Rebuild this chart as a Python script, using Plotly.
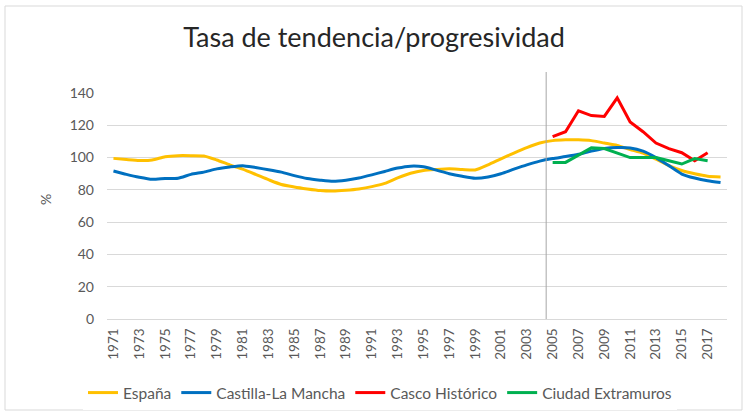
import plotly.graph_objects as go

years = list(range(1971, 2019))
years_local = list(range(2005, 2018))

espana = [99.5, 98.8, 98.2, 98.5, 100.5, 101.2, 101.2, 101.0, 98.5, 95.5,
          92.8, 89.6, 86.3, 83.3, 81.8, 80.6, 79.6, 79.3, 79.8, 80.6,
          82.0, 84.0, 87.4, 90.3, 92.0, 92.6, 93.0, 92.6, 92.3, 95.5,
          99.2, 102.8, 106.2, 109.0, 110.5, 111.0, 111.0, 110.5, 109.0, 107.5,
          105.0, 102.7, 99.0, 95.0, 92.0, 90.0, 88.5, 88.0]
clm = [91.7, 89.6, 87.8, 86.5, 87.0, 87.2, 89.6, 91.0, 93.0, 94.2,
       95.0, 93.8, 92.5, 91.0, 88.8, 87.0, 86.0, 85.3, 86.0, 87.4,
       89.3, 91.4, 93.5, 94.7, 94.3, 92.2, 90.0, 88.4, 87.2, 88.0,
       90.0, 92.8, 95.5, 97.8, 99.4, 100.6, 102.0, 104.0, 105.6, 106.2,
       106.0, 104.0, 100.0, 95.0, 89.8, 87.3, 85.6, 84.5]
casco = [113, 116, 129, 126, 125.5, 137, 122, 116, 109, 105.5, 103, 98, 103]
extramuros = [97, 97, 101.5, 106, 105.6, 102.7, 100, 100, 100, 98, 96, 99.4, 98]

tick_years = list(range(1971, 2018, 2))
tick_labels = [str(y) for y in tick_years]
y_ticks = [0, 20, 40, 60, 80, 100, 120, 140]

FONT = "Lato"
TXT = "#595959"

fig = go.Figure()
fig.add_trace(go.Scatter(x=years, y=espana, name="España", mode="lines",
                         line=dict(color="#FFC000", width=3, shape="spline", smoothing=0.6)))
fig.add_trace(go.Scatter(x=years, y=clm, name="Castilla-La Mancha", mode="lines",
                         line=dict(color="#0070C0", width=3, shape="spline", smoothing=0.6)))
fig.add_trace(go.Scatter(x=years_local, y=casco, name="Casco Histórico", mode="lines",
                         line=dict(color="#FF0000", width=3)))
fig.add_trace(go.Scatter(x=years_local, y=extramuros, name="Ciudad Extramuros", mode="lines",
                         line=dict(color="#00B050", width=3)))

L, R, T, B = 107, 21, 93, 100
W, H = 748, 419
pw, ph = W - L - R, H - T - B

def px_x(x):
    return (x - L) / pw

def px_y(y):
    return (H - B - y) / ph

fig.update_layout(
    width=W, height=H,
    margin=dict(l=L, r=R, t=T, b=B, autoexpand=False),
    paper_bgcolor="white", plot_bgcolor="white",
    font=dict(family=FONT, color=TXT, size=13),
    title=dict(text="Tasa de tendencia/progresividad", x=0.5, xanchor="center",
               y=1 - 38 / H, yanchor="middle", yref="container",
               font=dict(family=FONT, size=27, color="#262626")),
    xaxis=dict(range=[1970.5, 2018.5], tickmode="array", tickvals=tick_years,
               ticktext=tick_labels, tickangle=-90, showgrid=False, zeroline=False,
               showline=True, linecolor="#D9D9D9", linewidth=1, ticks="",
               automargin=False, ticklabelstandoff=3, tickfont=dict(size=13.5, color=TXT)),
    yaxis=dict(range=[0, 140], tickmode="array", tickvals=y_ticks, showgrid=True,
               gridcolor="#D9D9D9", gridwidth=1, zeroline=False, ticks="",
               automargin=False, ticklabelstandoff=12, tickfont=dict(size=14, color=TXT)),
    legend=dict(orientation="h", xref="container", x=0.508, xanchor="center",
                yref="container", y=1 - 393 / H, yanchor="middle",
                font=dict(size=15.5, color=TXT), itemwidth=30, tracegroupgap=0),
    showlegend=True,
    shapes=[
        dict(type="line", xref="x", yref="paper", x0=2004.5, x1=2004.5,
             y0=0, y1=px_y(72), line=dict(color="#A6A6A6", width=1)),
        dict(type="rect", xref="paper", yref="paper",
             x0=px_x(5), x1=px_x(742), y0=px_y(410), y1=px_y(6),
             line=dict(color="#D9D9D9", width=1), layer="below"),
    ],
    annotations=[
        dict(text="%", xref="paper", yref="paper", x=px_x(45), y=px_y(200),
             showarrow=False, textangle=-90, font=dict(size=14, color=TXT),
             xanchor="center", yanchor="middle"),
    ],
)

fig.write_html("out.html", config={"displayModeBar": False},
               post_script="document.body.style.margin='0px';document.body.style.padding='0px';")
